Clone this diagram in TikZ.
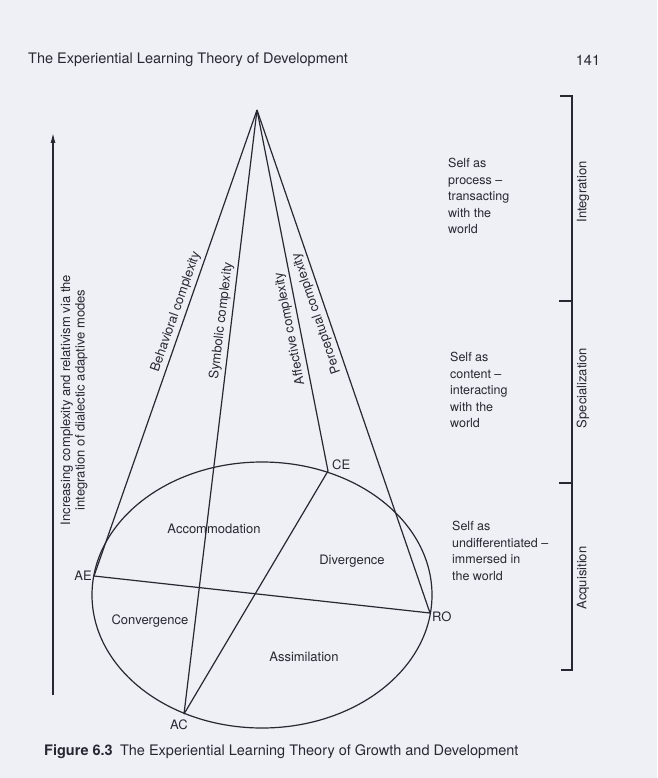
\documentclass[tikz,border=0pt]{standalone}
\usepackage{fontspec}
\setmainfont{TeX Gyre Heros}
\usepackage{xcolor}
\usepackage{tikz}
\usetikzlibrary{arrows.meta, positioning}
\definecolor{corPapel}{RGB}{238, 240, 245}
\definecolor{corTinta}{RGB}{40, 40, 50}

\begin{document}
\begin{tikzpicture}[
    x=1pt, y=-1pt,
    txt/.style={font=\fontsize{13}{15}\selectfont, text=corTinta, inner sep=1pt},
    lado/.style={txt, align=left, anchor=north west, inner sep=0pt,
                 font=\fontsize{12.5}{16.5}\selectfont},
    fase/.style={txt, rotate=90},
    linha/.style={draw=corTinta, line width=1.2pt},
    eixo/.style={txt, sloped, allow upside down, above=2pt}
]
\fill[corPapel] (0,0) rectangle (657,778);
\useasboundingbox (0,0) rectangle (657,778);

\node[txt, anchor=west, font=\fontsize{14.5}{17}\selectfont] (titulo) at (27,60) {The Experiential Learning Theory of Development};
\node[txt, font=\fontsize{14.5}{17}\selectfont] (pagina) at (588,60) {141};

\coordinate (apex) at (257,110);
\coordinate (ae) at (94,576);
\coordinate (ro) at (430,613);
\coordinate (ce) at (328,471);
\coordinate (ac) at (184,714);
\coordinate (base) at (53,695);
\coordinate (topo) at (53,133);

\draw[linha] (262,595) ellipse [x radius=170, y radius=133];
\draw[linha] (ae) -- node[eixo, pos=0.56] (behav) {Behavioral complexity} (apex);
\draw[linha] (ac) -- node[eixo, pos=0.649] (simb) {Symbolic complexity} (apex);
\draw[linha] (ce) -- node[eixo, pos=0.399] (afet) {Affective complexity} (apex);
\draw[linha] (ro) -- node[eixo, pos=0.602] (perc) {Perceptual complexity} (apex);
\draw[linha] (ae) -- (ro);
\draw[linha] (ac) -- (ce);

\node[txt, left=1pt of ae] (lae) {AE};
\node[txt, right=1pt of ro, yshift=-4pt] (lro) {RO};
\node[txt, above right=0pt and 3pt of ce] (lce) {CE};
\node[txt, below=5pt of ac, xshift=-5pt] (lac) {AC};

\node[txt] (acom) at (214,529) {Accommodation};
\node[txt] (diverg) at (352,561) {Divergence};
\node[txt] (converg) at (150,621) {Convergence};
\node[txt] (assim) at (304,657) {Assimilation};

\draw[linha, -{Latex[length=10pt,width=5pt]}] (base) -- (topo);
\node[txt, rotate=90, align=center, font=\fontsize{13}{14.5}\selectfont] (legenda) at (74,400) {Increasing complexity and relativism via the\\integration of dialectic adaptive modes};

\node[lado] (processo) at (448,158) {Self as\\process --\\transacting\\with the\\world};
\node[lado] (conteudo) at (450,352) {Self as\\content --\\interacting\\with the\\world};
\node[lado] (imerso) at (452,521) {Self as\\undifferentiated --\\immersed in\\the world};

\draw[linha] (560,96) -- (572,96) -- (572,670) -- (561,670);
\foreach \y in {301,483} \draw[linha] (559,\y) -- (572,\y);

\node[fase] (integ) at (583,192) {Integration};
\node[fase] (espec) at (583,388) {Specialization};
\node[fase] (aquis) at (583,578) {Acquisition};

\node[txt, anchor=west, font=\fontsize{14.5}{17}\selectfont] (figura) at (43,752) {\textbf{Figure 6.3}\enspace The Experiential Learning Theory of Growth and Development};
\end{tikzpicture}
\end{document}
